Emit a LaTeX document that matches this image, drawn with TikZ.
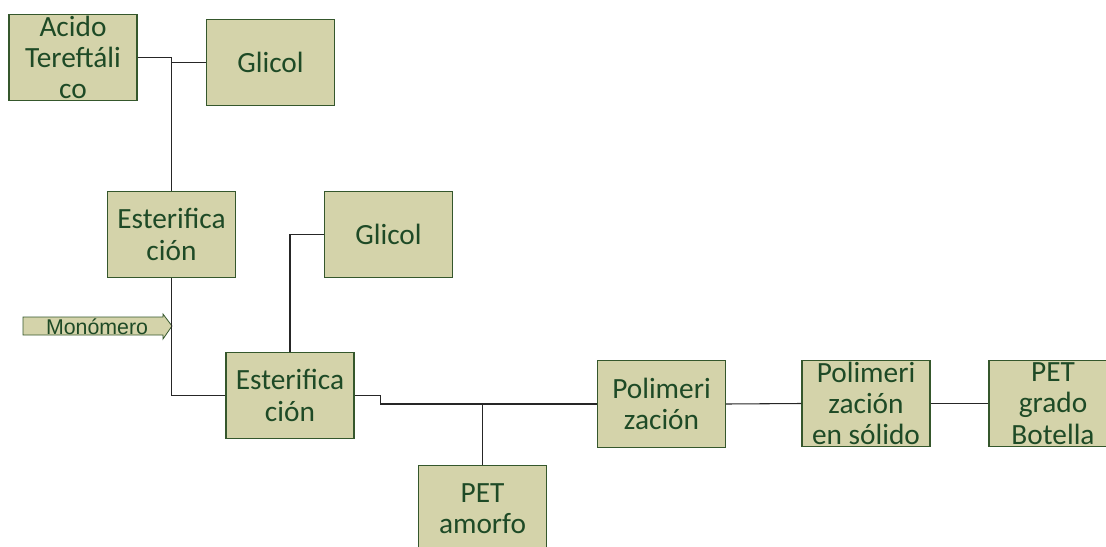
\documentclass[tikz,border=0pt]{standalone}
\usepackage{fontspec}
\setmainfont{Carlito}
\newfontfamily\arialfont{Liberation Sans}
\usepackage{tikz}
\definecolor{boxfill}{HTML}{D4D3AA}
\definecolor{boxline}{HTML}{35572C}
\definecolor{boxtext}{HTML}{1E4A26}

\begin{document}
\begin{tikzpicture}[x=0.75pt,y=-0.75pt,
        mybox/.style={draw=boxline,fill=boxfill,line width=0.9pt,minimum width=96pt,minimum height=65pt,inner sep=0pt,align=center,text=boxtext,font=\fontsize{22}{23.4}\selectfont},
        myline/.style={line width=0.8pt,black!85}]

        \useasboundingbox (0,0) rectangle (1106,546);

        %boxes
        \node[mybox] (acido) at (73,57.5) {Acido\\Tereftáli\\co};
        \node[mybox] (glicolA) at (270.5,62.5) {Glicol};
        \node[mybox] (esterA) at (171.5,234.5) {Esterifica\\ción};
        \node[mybox] (glicolB) at (388.5,234.5) {Glicol};
        \node[mybox] (esterB) at (290,395.5) {Esterifica\\ción};
        \node[mybox] (amorfo) at (482.5,508.5) {PET\\amorfo};
        \node[mybox] (poli) at (661.5,404) {Polimeri\\zación};
        \node[mybox] (solido) at (866,403.5) {Polimeri\\zación\\en sólido};
        \node[mybox] (botella) at (1053,403.5) {PET\\grado\\Botella};

        %monomer arrow
        \draw[draw=boxline,fill=boxfill,line width=0.6pt] (23,317) -- (163,317) -- (163,314) -- (172,326) -- (163,339) -- (163,335) -- (23,335) -- cycle;
        \node[text=boxtext,font=\arialfont\fontsize{16}{17}\selectfont,inner sep=0pt] (mono) at (97,327) {Monómero};

        %connections
        \draw[myline] (acido.east) -| (esterA.north);
        \draw[myline] (glicolA.west) -- (glicolA.west -| esterA.north);
        \draw[myline] (esterA.south) |- (esterB.west);
        \draw[myline] (glicolB.west) -| (esterB.north);
        \draw[myline] (esterB.east) -- ++(26,0) |- (poli.west);
        \draw[myline] (amorfo.north) -- (amorfo.north |- poli.west);
        \draw[myline] (poli.east) -- (solido.west);
        \draw[myline] (solido.east) -- (botella.west);
\end{tikzpicture}
\end{document}
